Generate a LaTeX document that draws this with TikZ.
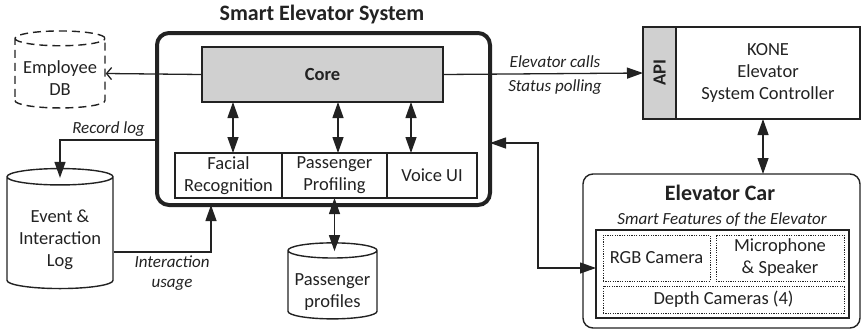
\documentclass[tikz,border=0pt]{standalone}
\usepackage{fontspec}
\setmainfont{Carlito}
\usetikzlibrary{arrows.meta, shapes.geometric, positioning}
\definecolor{corefill}{HTML}{D0D0D0}
\definecolor{ink}{HTML}{222222}
\newcommand{\dbtext}[1]{\raisebox{-7pt}[\height][\depth]{\begin{tabular}{@{}c@{}}#1\end{tabular}}}

\begin{document}
\begin{tikzpicture}[x=1pt, y=-1pt, line width=1.3pt, draw=ink, text=ink,
        every node/.style={font=\fontsize{18.5}{22}\selectfont, align=center, inner sep=0pt},
        box/.style={draw, line width=1.4pt, rectangle, outer sep=0pt},
        sensor/.style={draw, line width=1pt, dash pattern=on 1.2pt off 1.2pt, rectangle},
        lbl/.style={font=\fontsize{17}{20.5}\selectfont\itshape},
        bigbold/.style={font=\fontsize{22}{26}\selectfont\bfseries},
        db/.style={draw, line width=1.4pt, cylinder, shape border rotate=90, aspect=0.2},
        tip/.style={-{Triangle[length=16pt,width=11pt]}},
        dbl/.style={{Triangle[length=16pt,width=11pt]}-{Triangle[length=16pt,width=11pt]}}]
        \useasboundingbox (0,0) rectangle (862,330);

        % smart elevator system
        \node[bigbold] (title) at (322,15) {Smart Elevator System};
        \node[box, line width=4pt, rounded corners=12pt, minimum width=333, minimum height=172] (sys) at (323.5,119) {};
        \node[box, fill=corefill, minimum width=241, minimum height=55, font=\fontsize{18.5}{22}\selectfont\bfseries] (core) at (322.5,74.5) {Core};
        \node[box, minimum width=107, minimum height=45] (facial) at (228.5,175.5) {Facial\\Recognition};
        \node[box, minimum width=105, minimum height=45, right=0pt of facial] (profiling) {Passenger\\Profiling};
        \node[box, minimum width=90, minimum height=45, right=0pt of profiling] (voice) {Voice UI};

        % databases
        \node[db, dash pattern=on 8pt off 5pt, minimum width=90, minimum height=77] (empdb) at (60,73.5) {\dbtext{Employee\\DB}};
        \node[db, minimum width=106, minimum height=120] (log) at (60,233) {\dbtext{Event \&\\Interaction\\Log}};
        \node[db, minimum width=89, minimum height=76] (pprof) at (332.5,285) {\dbtext{Passenger\\profiles}};

        % controller
        \node[box, fill=corefill, minimum width=33, minimum height=92] (api) at (659.5,73) {\rotatebox{90}{\bfseries API}};
        \node[box, minimum width=184, minimum height=92, right=0pt of api] (kone) {KONE\\Elevator\\System Controller};

        % elevator car
        \node[box, rounded corners=10pt, minimum width=277, minimum height=154] (car) at (721.5,251) {};
        \node[bigbold] (cartitle) at (720,193) {Elevator Car};
        \node[lbl] (carsub) at (722,220) {Smart Features of the Elevator};
        \node[box, minimum width=253, minimum height=88] (feat) at (722.5,274) {};
        \node[sensor, minimum width=107, minimum height=46] (rgb) at (656.5,258) {RGB Camera};
        \node[sensor, minimum width=128, minimum height=46] (mic) at (780,258) {Microphone\\\& Speaker};
        \node[sensor, minimum width=241, minimum height=27] (depth) at (723.5,299.5) {Depth Cameras (4)};

        % connectors
        \draw[dbl] ([xshift=4.5pt]core.south -| facial.north) -- ([xshift=4.5pt]facial.north);
        \draw[dbl] ([xshift=3.5pt]core.south -| profiling.north) -- ([xshift=3.5pt]profiling.north);
        \draw[dbl] ([xshift=-21pt]core.south -| voice.north) -- ([xshift=-21pt]voice.north);
        \draw[-{Straight Barb[length=5pt,width=12pt]}] (core.west) -- (empdb.east);
        \draw[tip] (core.east) -- (api.west)
            node[lbl, pos=0.56, above=5pt] {Elevator calls}
            node[lbl, pos=0.56, below=5pt] {Status polling};
        \draw[tip] ([yshift=-21pt]sys.west) -| ([yshift=-10pt]log.top)
            node[lbl, pos=0.25, above=3pt] {Record log};
        \draw[tip] ([yshift=-19pt]log.east) -| ([xshift=-112.5pt]sys.south)
            node[lbl, pos=0.3, below=3pt] {Interaction\\usage};
        \draw[dbl] ([yshift=-9pt]profiling.south |- pprof.top) -- (profiling.south);
        \draw[dbl] ([xshift=-5pt]kone.south) -- ([xshift=-5pt]kone.south |- car.north);
        \draw[dbl] ([yshift=-24pt]sys.east) -- ++(48,0) |- ([yshift=6pt]feat.west);
\end{tikzpicture}
\end{document}
